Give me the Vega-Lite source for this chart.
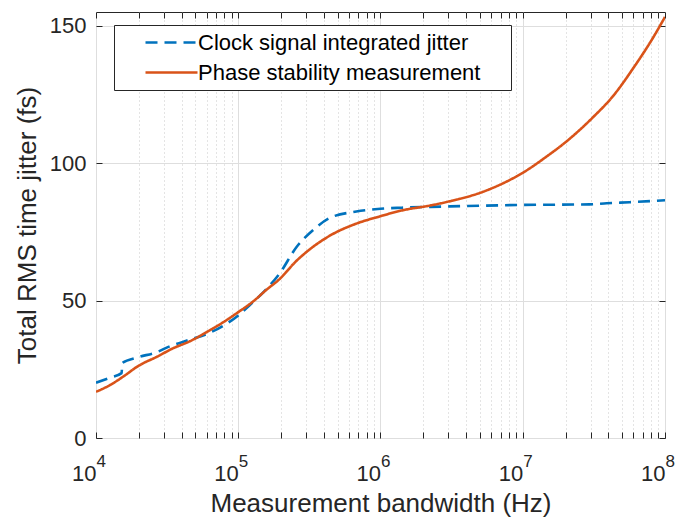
{
  "$schema": "https://vega.github.io/schema/vega-lite/v6.json",
  "width": 569,
  "height": 426,
  "autosize": {"type": "none"},
  "padding": {"left": 96, "top": 12, "right": 20, "bottom": 82},
  "config": {
    "font": "Liberation Sans",
    "view": {"stroke": "#262626", "strokeWidth": 1},
    "axis": {"labelFont": "Liberation Sans", "titleFont": "Liberation Sans", "labelColor": "#262626", "titleColor": "#262626", "titleFontWeight": "normal"}
  },
  "data": {
    "values": [
      {"f": 10000, "series": "Clock signal integrated jitter", "v": 20.1},
      {"f": 12303, "series": "Clock signal integrated jitter", "v": 21.8},
      {"f": 15136, "series": "Clock signal integrated jitter", "v": 23.6},
      {"f": 15311, "series": "Clock signal integrated jitter", "v": 27.3},
      {"f": 19498, "series": "Clock signal integrated jitter", "v": 29.3},
      {"f": 26915, "series": "Clock signal integrated jitter", "v": 31.3},
      {"f": 33113, "series": "Clock signal integrated jitter", "v": 33.4},
      {"f": 45709, "series": "Clock signal integrated jitter", "v": 35.8},
      {"f": 63096, "series": "Clock signal integrated jitter", "v": 38.3},
      {"f": 79433, "series": "Clock signal integrated jitter", "v": 41.0},
      {"f": 100000, "series": "Clock signal integrated jitter", "v": 44.6},
      {"f": 120226, "series": "Clock signal integrated jitter", "v": 48.3},
      {"f": 158489, "series": "Clock signal integrated jitter", "v": 54.3},
      {"f": 194984, "series": "Clock signal integrated jitter", "v": 59.8},
      {"f": 257040, "series": "Clock signal integrated jitter", "v": 69.5},
      {"f": 338844, "series": "Clock signal integrated jitter", "v": 75.8},
      {"f": 436516, "series": "Clock signal integrated jitter", "v": 80.0},
      {"f": 676083, "series": "Clock signal integrated jitter", "v": 82.4},
      {"f": 1000000, "series": "Clock signal integrated jitter", "v": 83.4},
      {"f": 1412538, "series": "Clock signal integrated jitter", "v": 83.8},
      {"f": 2754229, "series": "Clock signal integrated jitter", "v": 84.2},
      {"f": 10000000, "series": "Clock signal integrated jitter", "v": 84.8},
      {"f": 29512092, "series": "Clock signal integrated jitter", "v": 85.0},
      {"f": 38904514, "series": "Clock signal integrated jitter", "v": 85.4},
      {"f": 56234133, "series": "Clock signal integrated jitter", "v": 85.8},
      {"f": 100000000, "series": "Clock signal integrated jitter", "v": 86.5},
      {"f": 10000, "series": "Phase stability measurement", "v": 16.8},
      {"f": 12589, "series": "Phase stability measurement", "v": 19.3},
      {"f": 15488, "series": "Phase stability measurement", "v": 22.3},
      {"f": 19953, "series": "Phase stability measurement", "v": 26.3},
      {"f": 26915, "series": "Phase stability measurement", "v": 29.6},
      {"f": 34674, "series": "Phase stability measurement", "v": 32.6},
      {"f": 45709, "series": "Phase stability measurement", "v": 35.2},
      {"f": 60256, "series": "Phase stability measurement", "v": 38.6},
      {"f": 79433, "series": "Phase stability measurement", "v": 42.3},
      {"f": 100000, "series": "Phase stability measurement", "v": 45.8},
      {"f": 125893, "series": "Phase stability measurement", "v": 49.5},
      {"f": 158489, "series": "Phase stability measurement", "v": 54.0},
      {"f": 194984, "series": "Phase stability measurement", "v": 57.8},
      {"f": 257040, "series": "Phase stability measurement", "v": 64.5},
      {"f": 301995, "series": "Phase stability measurement", "v": 67.7},
      {"f": 436516, "series": "Phase stability measurement", "v": 73.5},
      {"f": 676083, "series": "Phase stability measurement", "v": 78.0},
      {"f": 1000000, "series": "Phase stability measurement", "v": 80.7},
      {"f": 1412538, "series": "Phase stability measurement", "v": 82.8},
      {"f": 2238721, "series": "Phase stability measurement", "v": 84.6},
      {"f": 3162278, "series": "Phase stability measurement", "v": 86.3},
      {"f": 5011872, "series": "Phase stability measurement", "v": 89.2},
      {"f": 7079458, "series": "Phase stability measurement", "v": 92.4},
      {"f": 10000000, "series": "Phase stability measurement", "v": 96.5},
      {"f": 14791084, "series": "Phase stability measurement", "v": 102.5},
      {"f": 19952623, "series": "Phase stability measurement", "v": 107.6},
      {"f": 30902954, "series": "Phase stability measurement", "v": 116.5},
      {"f": 43251383, "series": "Phase stability measurement", "v": 124.5},
      {"f": 60255959, "series": "Phase stability measurement", "v": 134.8},
      {"f": 83176377, "series": "Phase stability measurement", "v": 146.0},
      {"f": 100000000, "series": "Phase stability measurement", "v": 153.2}
    ]
  },
  "layer": [
    {
      "mark": {"type": "line", "strokeWidth": 2.6, "clip": true, "interpolate": "monotone"},
      "encoding": {
        "x": {
          "field": "f", "type": "quantitative",
          "scale": {"type": "log", "domain": [10000, 100000000]},
          "axis": {
            "title": "Measurement bandwidth (Hz)",
            "titleFontSize": 26,
            "titlePadding": 6,
            "values": [10000, 20000, 30000, 40000, 50000, 60000, 70000, 80000, 90000, 100000, 200000, 300000, 400000, 500000, 600000, 700000, 800000, 900000, 1000000, 2000000, 3000000, 4000000, 5000000, 6000000, 7000000, 8000000, 9000000, 10000000, 20000000, 30000000, 40000000, 50000000, 60000000, 70000000, 80000000, 90000000, 100000000],
            "labelExpr": "indexof([10000, 100000, 1000000, 10000000, 100000000], datum.value) >= 0 ? '10' : ''",
            "labelFontSize": 22,
            "labelFlush": false,
            "labelOverlap": false,
            "labelAlign": "right",
            "labelDx": 4,
            "labelPadding": 31,
            "tickSize": -6,
            "tickColor": "#262626",
            "domain": false,
            "grid": true,
            "gridColor": {"condition": {"test": "indexof([10000, 100000, 1000000, 10000000, 100000000], datum.value) >= 0", "value": "#dedede"}, "value": "#c8c8c8"},
            "gridDash": {"condition": {"test": "indexof([10000, 100000, 1000000, 10000000, 100000000], datum.value) >= 0", "value": []}, "value": [1, 3]}
          }
        },
        "y": {
          "field": "v", "type": "quantitative",
          "scale": {"domain": [0, 155], "nice": false},
          "axis": {
            "title": "Total RMS time jitter (fs)",
            "titleFontSize": 26,
            "titlePadding": 9,
            "values": [0, 50, 100, 150],
            "labelFontSize": 22,
            "labelPadding": 16,
            "tickSize": -6,
            "tickColor": "#262626",
            "domain": false,
            "grid": true,
            "gridColor": "#dedede"
          }
        },
        "color": {
          "field": "series", "type": "nominal",
          "scale": {"domain": ["Clock signal integrated jitter", "Phase stability measurement"], "range": ["#0072BD", "#D95319"]},
          "legend": {
            "title": null,
            "orient": "none",
            "legendX": 18,
            "legendY": 13,
            "strokeColor": "#262626",
            "fillColor": "white",
            "padding": 6,
            "labelFontSize": 22,
            "labelColor": "#000000",
            "labelFont": "Liberation Sans",
            "labelLimit": 600,
            "labelExpr": "datum.label + '\u00a0\u00a0\u00a0\u00a0\u200b'",
            "symbolType": "M-2.6,0H2.6",
            "symbolSize": 400,
            "symbolStrokeWidth": 2.6,
            "symbolOffset": 40,
            "labelOffset": 15,
            "rowPadding": 7
          }
        },
        "strokeDash": {
          "field": "series", "type": "nominal",
          "scale": {"domain": ["Clock signal integrated jitter", "Phase stability measurement"], "range": [[12, 7], [1, 0]]},
          "legend": null
        }
      }
    },
    {
      "mark": {"type": "point", "opacity": 0},
      "encoding": {
        "x": {
          "field": "f", "type": "quantitative",
          "scale": {"type": "log", "domain": [10000, 100000000]},
          "axis": {
            "orient": "top", "title": null, "labels": false, "grid": false, "domain": false,
            "tickSize": -6, "tickColor": "#262626",
            "values": [10000, 20000, 30000, 40000, 50000, 60000, 70000, 80000, 90000, 100000, 200000, 300000, 400000, 500000, 600000, 700000, 800000, 900000, 1000000, 2000000, 3000000, 4000000, 5000000, 6000000, 7000000, 8000000, 9000000, 10000000, 20000000, 30000000, 40000000, 50000000, 60000000, 70000000, 80000000, 90000000, 100000000]
          }
        },
        "y": {
          "field": "v", "type": "quantitative",
          "scale": {"domain": [0, 155], "nice": false},
          "axis": {
            "orient": "right", "title": null, "labels": false, "grid": false, "domain": false,
            "tickSize": -6, "tickColor": "#262626",
            "values": [0, 50, 100, 150]
          }
        }
      }
    },
    {
      "mark": {"type": "point", "opacity": 0},
      "encoding": {
        "x": {
          "field": "f", "type": "quantitative",
          "scale": {"type": "log", "domain": [10000, 100000000]},
          "axis": {
            "orient": "bottom", "title": null, "grid": false, "domain": false, "ticks": false, "tickSize": 0,
            "values": [10000, 100000, 1000000, 10000000, 100000000],
            "labelExpr": "datum.value == 10000 ? '4' : datum.value == 100000 ? '5' : datum.value == 1000000 ? '6' : datum.value == 10000000 ? '7' : '8'",
            "labelFontSize": 17,
            "labelFlush": false,
            "labelOverlap": false,
            "labelAlign": "left",
            "labelDx": 7,
            "labelPadding": 15
          }
        },
        "y": {
          "field": "v", "type": "quantitative",
          "scale": {"domain": [0, 155], "nice": false},
          "axis": null
        }
      }
    }
  ],
  "resolve": {"axis": {"x": "independent", "y": "independent"}}
}
